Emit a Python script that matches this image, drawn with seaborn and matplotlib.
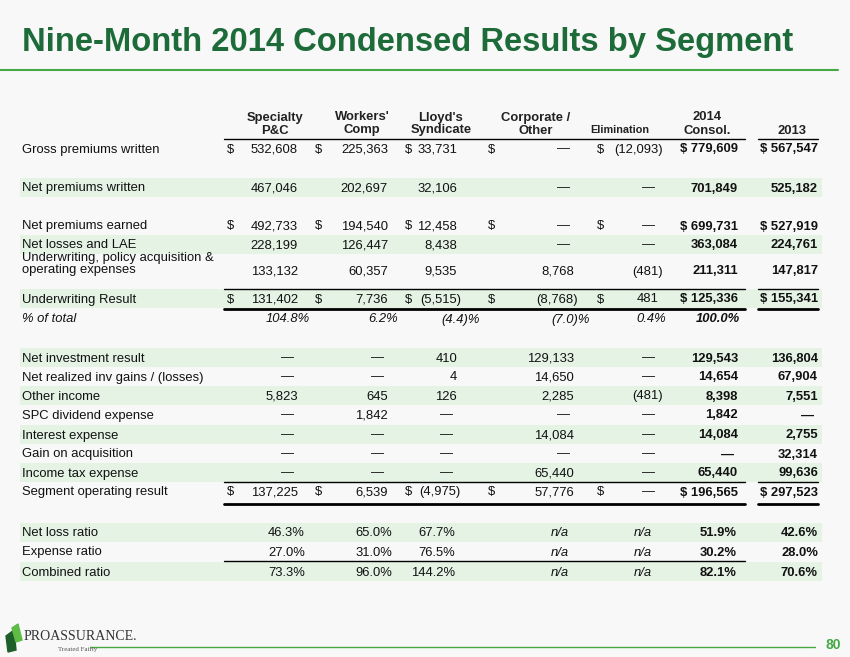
import matplotlib.pyplot as plt
import seaborn as sns

sns.set_theme(style="white")
plt.rcParams['font.family'] = ['Liberation Sans', 'DejaVu Sans']

GREEN = '#1E6B3A'
LIGHT = '#E4F3E4'
FS = 9.4

headers = [["Specialty", "P&C"], ["Workers'", "Comp"], ["Lloyd's", "Syndicate"],
           ["Corporate /", "Other"], ["", "Elimination"], ["2014", "Consol."], ["", "2013"]]

labels = ["Gross premiums written", "Net premiums written", "Net premiums earned",
          "Net losses and LAE", "Underwriting, policy acquisition &\noperating expenses",
          "Underwriting Result", "% of total", "Net investment result",
          "Net realized inv gains / (losses)", "Other income", "SPC dividend expense",
          "Interest expense", "Gain on acquisition", "Income tax expense",
          "Segment operating result", "Net loss ratio", "Expense ratio", "Combined ratio"]

spc = ["532,608", "467,046", "492,733", "228,199", "133,132", "131,402", "104.8%", "—", "—",
       "5,823", "—", "—", "—", "—", "137,225", "46.3%", "27.0%", "73.3%"]
wc = ["225,363", "202,697", "194,540", "126,447", "60,357", "7,736", "6.2%", "—", "—",
      "645", "1,842", "—", "—", "—", "6,539", "65.0%", "31.0%", "96.0%"]
lloyds = ["33,731", "32,106", "12,458", "8,438", "9,535", "(5,515)", "(4.4)%", "410", "4",
          "126", "—", "—", "—", "—", "(4,975)", "67.7%", "76.5%", "144.2%"]
corp = ["—", "—", "—", "—", "8,768", "(8,768)", "(7.0)%", "129,133", "14,650",
        "2,285", "—", "14,084", "—", "65,440", "57,776", "n/a", "n/a", "n/a"]
elim = ["(12,093)", "—", "—", "—", "(481)", "481", "0.4%", "—", "—",
        "(481)", "—", "—", "—", "—", "—", "n/a", "n/a", "n/a"]
consol = ["779,609", "701,849", "699,731", "363,084", "211,311", "125,336", "100.0%", "129,543",
          "14,654", "8,398", "1,842", "14,084", "—", "65,440", "196,565", "51.9%", "30.2%", "82.1%"]
y2013 = ["567,547", "525,182", "527,919", "224,761", "147,817", "155,341", "", "136,804",
         "67,904", "7,551", "—", "2,755", "32,314", "99,636", "297,523", "42.6%", "28.0%", "70.6%"]
dollar_rows = [0, 2, 5, 14]
pct_row = 6
ratio_rows = [15, 16, 17]
shaded = [1, 3, 5, 7, 9, 11, 13, 15, 17]

row_y = [148, 187, 225, 244, 270, 298, 318, 357, 376, 395, 414, 434, 453, 472, 491, 532, 551, 571]
col_right = [298, 388, 457, 574, 659, 738, 818]
col_dollar = [227, 315, 405, 488, 597, 738 - 62, 818 - 62]
col_center = [275, 362, 441, 536, 620, 707, 792]
pct_right = [310, 398, 480, 590, 666, 740, 818]
ratio_right = [305, 392, 455, 569, 652, 737, 818]

fig = plt.figure(figsize=(8.5, 6.57), dpi=100)
fig.patch.set_facecolor('#F8F8F8')
ax = fig.add_axes([0, 0, 1, 1])
ax.set_xlim(0, 850)
ax.set_ylim(657, 0)
ax.axis('off')

ax.text(22, 42, "Nine-Month 2014 Condensed Results by Segment", fontsize=23.6,
        fontweight='bold', color=GREEN, va='center')
ax.plot([0, 838], [70, 70], color='#45A845', lw=1.5)

for r in shaded:
    y = row_y[r]
    ax.fill_between([20, 822], y - 9.5, y + 9.5, color=LIGHT, lw=0)

for c, h in enumerate(headers):
    if h[0]:
        ax.text(col_center[c], 116, h[0], ha='center', va='center_baseline', fontsize=FS,
                fontweight='bold', color='#222')
    fs = 7.8 if h[1] == "Elimination" else FS
    ax.text(col_center[c], 129, h[1], ha='center', va='center_baseline', fontsize=fs,
            fontweight='bold', color='#222')

cols = [spc, wc, lloyds, corp, elim, consol, y2013]
for r, lab in enumerate(labels):
    y = row_y[r]
    if '\n' in lab:
        l1, l2 = lab.split('\n')
        ax.text(22, 256, l1, va='center_baseline', fontsize=FS, color='#111')
        ax.text(22, 269, l2, va='center_baseline', fontsize=FS, color='#111')
    else:
        ax.text(22, y, lab, va='center_baseline', fontsize=FS, color='#111',
                style='italic' if r == pct_row else 'normal')
    for c, col in enumerate(cols):
        v = col[r]
        if not v:
            continue
        bold = c >= 5
        if r == pct_row:
            ax.text(pct_right[c], y, v, ha='right', va='center_baseline', fontsize=FS, style='italic',
                    fontweight='bold' if bold else 'normal', color='#111')
            continue
        if r in ratio_rows:
            ax.text(ratio_right[c], y, v, ha='right', va='center_baseline', fontsize=FS,
                    style='italic' if v == 'n/a' else 'normal',
                    fontweight='bold' if bold else 'normal', color='#111')
            continue
        x = col_right[c]
        if v.endswith(')'):
            x += 4
        elif v == '—':
            x -= 4
        if r in dollar_rows:
            if bold:
                v = "$ " + v
            else:
                ax.text(col_dollar[c], y, "$", ha='left', va='center_baseline', fontsize=FS, color='#111')
        ax.text(x, y, v, ha='right', va='center_baseline', fontsize=FS,
                fontweight='bold' if bold else 'normal', color='#111')

def hline(y, lw):
    ax.plot([224, 745], [y, y], color='black', lw=lw)
    ax.plot([758, 818], [y, y], color='black', lw=lw)

hline(139, 1)
hline(289, 1)
hline(309, 2)
hline(482, 1)
hline(504, 2)
ax.plot([224, 745], [561, 561], color='black', lw=1)

# footer
ax.fill([6, 14, 16, 8], [636, 630, 650, 652], color='#1E5E2A')
ax.fill([12, 18, 22, 16], [628, 624, 640, 642], color='#5DBB46')
ax.text(24, 637, "PROASSURANCE.", family='Liberation Serif', fontsize=10, color='#333', va='center')
ax.text(58, 650, "Treated Fairly", family='Liberation Serif', fontsize=5, color='#555', va='center')
ax.plot([90, 815], [647, 647], color='#45A845', lw=1)
ax.text(826, 645, "80", fontsize=10, fontweight='bold', color='#45A845', va='center')

fig.savefig("out.png", dpi=100, facecolor=fig.get_facecolor())
